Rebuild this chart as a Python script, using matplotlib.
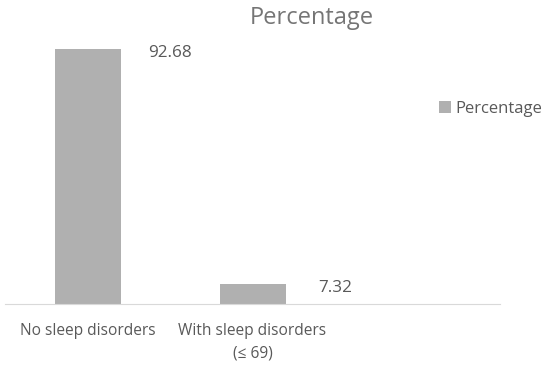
import matplotlib.pyplot as plt
import numpy as np

plt.rcParams['font.family'] = ['Open Sans', 'DejaVu Sans']

categories = ["No sleep disorders", "With sleep disorders\n(\u2264 69)", ""]
values = [92.68, 7.32]
series_name = "Percentage"

bar_color = "#b0b0b0"
text_color = "#595959"

fig = plt.figure(figsize=(5.5, 3.67), dpi=100)
ax = fig.add_axes([5/550, 1-304/367, 495/550, 275/367])

x = np.arange(len(values))
ax.bar(x, values, width=0.4, color=bar_color, label=series_name)
ax.set_xlim(-0.5, 2.5)
ax.set_ylim(0, 100)

# data labels sit to the right of each bar
for xi, v in zip(x, values):
    ax.annotate(f"{v:.2f}", (xi + 0.5, v), xytext=(0, -3), textcoords="offset points",
                ha="center", va="center", fontsize=12.3, color=text_color)

ax.set_xticks(np.arange(len(categories)))
ax.set_xticklabels(categories, fontsize=11.2, color=text_color, linespacing=1.5)
ax.tick_params(axis="x", length=0, pad=14)
ax.set_yticks([])
for s in ["top", "left", "right"]:
    ax.spines[s].set_visible(False)
ax.spines["bottom"].set_color("#d9d9d9")

fig.text(312/550, 1-18/367, "Percentage", ha="center", va="center", fontsize=17, color="#757575")
fig.legend(loc="center left", bbox_to_anchor=(424/550, 1-109/367), frameon=False,
           handlelength=0.7, handleheight=0.7, handletextpad=0.3, fontsize=12,
           labelcolor=text_color)

fig.savefig("out.png", dpi=100)
